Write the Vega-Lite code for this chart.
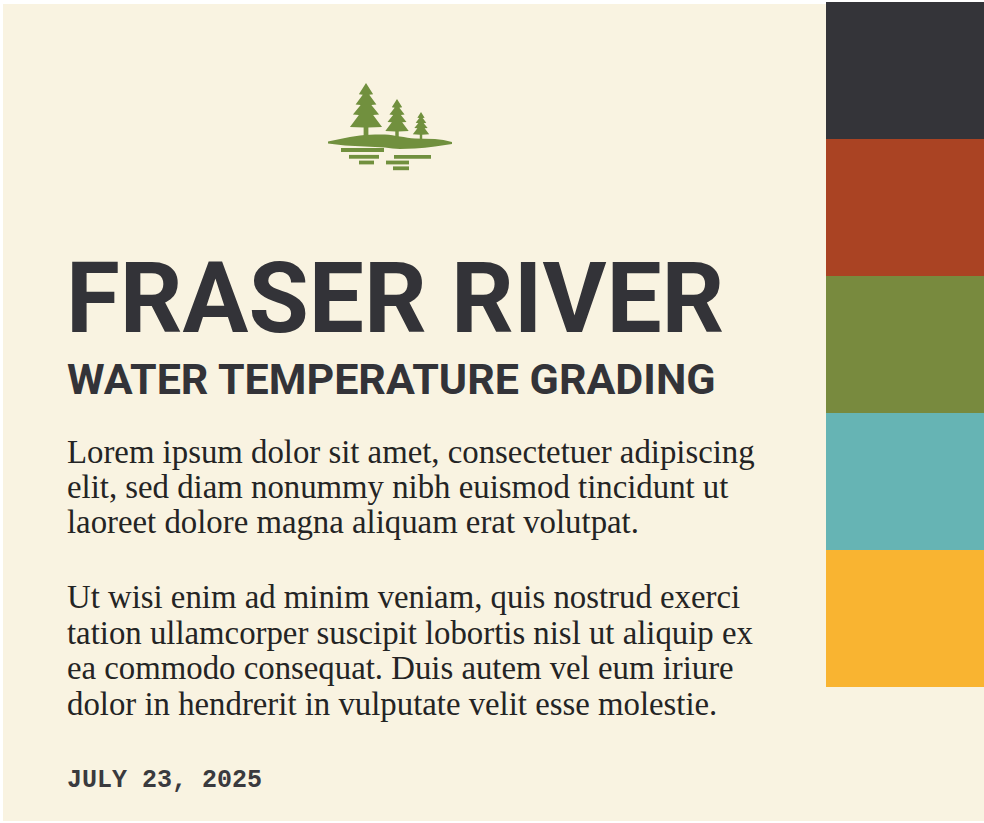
{
  "$schema": "https://vega.github.io/schema/vega-lite/v6.json",
  "width": 984,
  "height": 823,
  "padding": 0,
  "autosize": {"type": "fit", "contains": "padding"},
  "background": "#FFFFFF",
  "config": {"view": {"stroke": null}},
  "datasets": {
    "panel": [{"x": 3, "x2": 984, "y": 4, "y2": 821}],
    "swatches": [
      {"grade": "A", "x": 826, "x2": 984, "y": 2, "y2": 139},
      {"grade": "B", "x": 826, "x2": 984, "y": 139, "y2": 276},
      {"grade": "C", "x": 826, "x2": 984, "y": 276, "y2": 413},
      {"grade": "D", "x": 826, "x2": 984, "y": 413, "y2": 550},
      {"grade": "E", "x": 826, "x2": 984, "y": 550, "y2": 687}
    ],
    "trees": [
      {"tree": "tall", "x": 366, "y": 112.7, "h": 55},
      {"tree": "middle", "x": 397, "y": 120.6, "h": 40},
      {"tree": "small", "x": 421, "y": 127.1, "h": 28}
    ],
    "ground": [
      {"x": 328, "top": 141.5, "bottom": 143.5},
      {"x": 345, "top": 138, "bottom": 145.5},
      {"x": 365, "top": 135, "bottom": 146.5},
      {"x": 385, "top": 134.5, "bottom": 147.5},
      {"x": 400, "top": 136.5, "bottom": 149},
      {"x": 415, "top": 138.5, "bottom": 148.5},
      {"x": 435, "top": 139, "bottom": 146.5},
      {"x": 452, "top": 142, "bottom": 144}
    ],
    "water": [
      {"x": 341, "x2": 384, "y": 150},
      {"x": 349, "x2": 379, "y": 156.8},
      {"x": 394, "x2": 431, "y": 156.8},
      {"x": 359, "x2": 374, "y": 162.5},
      {"x": 386, "x2": 409, "y": 162.5},
      {"x": 393, "x2": 409, "y": 168.3}
    ],
    "title": [{"x": 66, "y": 332, "text": "FRASER RIVER"}],
    "subtitle": [{"x": 67, "y": 394, "text": "WATER TEMPERATURE GRADING"}],
    "body": [
      {"x": 67, "y": 463, "text": "Lorem ipsum dolor sit amet, consectetuer adipiscing"},
      {"x": 67, "y": 498, "text": "elit, sed diam nonummy nibh euismod tincidunt ut"},
      {"x": 67, "y": 533, "text": "laoreet dolore magna aliquam erat volutpat."},
      {"x": 67, "y": 608, "text": "Ut wisi enim ad minim veniam, quis nostrud exerci"},
      {"x": 67, "y": 644, "text": "tation ullamcorper suscipit lobortis nisl ut aliquip ex"},
      {"x": 67, "y": 679, "text": "ea commodo consequat. Duis autem vel eum iriure"},
      {"x": 67, "y": 715, "text": "dolor in hendrerit in vulputate velit esse molestie."}
    ],
    "date": [{"x": 67, "y": 787, "text": "JULY 23, 2025"}]
  },
  "layer": [
    {
      "data": {"name": "panel"},
      "mark": {"type": "rect", "color": "#F9F3E1"},
      "encoding": {
        "x": {"field": "x", "type": "quantitative", "scale": {"domain": [0, 984], "nice": false, "zero": false}, "axis": null},
        "x2": {"field": "x2"},
        "y": {"field": "y", "type": "quantitative", "scale": {"domain": [0, 823], "nice": false, "zero": false, "reverse": true}, "axis": null},
        "y2": {"field": "y2"}
      }
    },
    {
      "data": {"name": "swatches"},
      "mark": {"type": "rect"},
      "encoding": {
        "x": {"field": "x", "type": "quantitative", "axis": null},
        "x2": {"field": "x2"},
        "y": {"field": "y", "type": "quantitative", "axis": null},
        "y2": {"field": "y2"},
        "color": {"field": "grade", "type": "nominal", "legend": null,
          "scale": {"domain": ["A", "B", "C", "D", "E"], "range": ["#343439", "#AA4323", "#788A3E", "#66B4B4", "#F9B431"]}}
      }
    },
    {
      "data": {"name": "ground"},
      "mark": {"type": "area", "color": "#71903E", "interpolate": "monotone", "opacity": 1},
      "encoding": {
        "x": {"field": "x", "type": "quantitative", "axis": null},
        "y": {"field": "top", "type": "quantitative", "axis": null},
        "y2": {"field": "bottom"}
      }
    },
    {
      "data": {"name": "trees"},
      "mark": {"type": "point", "filled": true, "opacity": 1, "color": "#71903E",
        "shape": "M0,-1 L0.24,-0.62 L0.11,-0.6 L0.35,-0.28 L0.18,-0.26 L0.44,0.06 L0.24,0.08 L0.54,0.48 L0.08,0.5 L0.08,0.9 L-0.08,0.9 L-0.08,0.5 L-0.54,0.48 L-0.24,0.08 L-0.44,0.06 L-0.18,-0.26 L-0.35,-0.28 L-0.11,-0.6 L-0.24,-0.62 Z"},
      "encoding": {
        "x": {"field": "x", "type": "quantitative", "axis": null},
        "y": {"field": "y", "type": "quantitative", "axis": null},
        "size": {"field": "h", "type": "quantitative", "legend": null,
          "scale": {"type": "pow", "exponent": 2, "domain": [0, 100], "range": [0, 11687]}}
      }
    },
    {
      "data": {"name": "water"},
      "mark": {"type": "rule", "color": "#71903E", "strokeWidth": 3.8, "strokeCap": "butt"},
      "encoding": {
        "x": {"field": "x", "type": "quantitative", "axis": null},
        "x2": {"field": "x2"},
        "y": {"field": "y", "type": "quantitative", "axis": null}
      }
    },
    {
      "data": {"name": "title"},
      "mark": {"type": "text", "align": "left", "baseline": "alphabetic", "font": "Roboto", "fontWeight": "bold", "fontSize": 98, "letterSpacing": -6, "color": "#333338"},
      "encoding": {
        "x": {"field": "x", "type": "quantitative", "axis": null},
        "y": {"field": "y", "type": "quantitative", "axis": null},
        "text": {"field": "text"}
      }
    },
    {
      "data": {"name": "subtitle"},
      "mark": {"type": "text", "align": "left", "baseline": "alphabetic", "font": "Roboto", "fontWeight": "bold", "fontSize": 43, "letterSpacing": -0.8, "color": "#333338"},
      "encoding": {
        "x": {"field": "x", "type": "quantitative", "axis": null},
        "y": {"field": "y", "type": "quantitative", "axis": null},
        "text": {"field": "text"}
      }
    },
    {
      "data": {"name": "body"},
      "mark": {"type": "text", "align": "left", "baseline": "alphabetic", "font": "Liberation Serif", "fontSize": 32.8, "color": "#242424"},
      "encoding": {
        "x": {"field": "x", "type": "quantitative", "axis": null},
        "y": {"field": "y", "type": "quantitative", "axis": null},
        "text": {"field": "text"}
      }
    },
    {
      "data": {"name": "date"},
      "mark": {"type": "text", "align": "left", "baseline": "alphabetic", "font": "Liberation Mono", "fontWeight": "bold", "fontSize": 25, "color": "#3A3A3E"},
      "encoding": {
        "x": {"field": "x", "type": "quantitative", "axis": null},
        "y": {"field": "y", "type": "quantitative", "axis": null},
        "text": {"field": "text"}
      }
    }
  ]
}
